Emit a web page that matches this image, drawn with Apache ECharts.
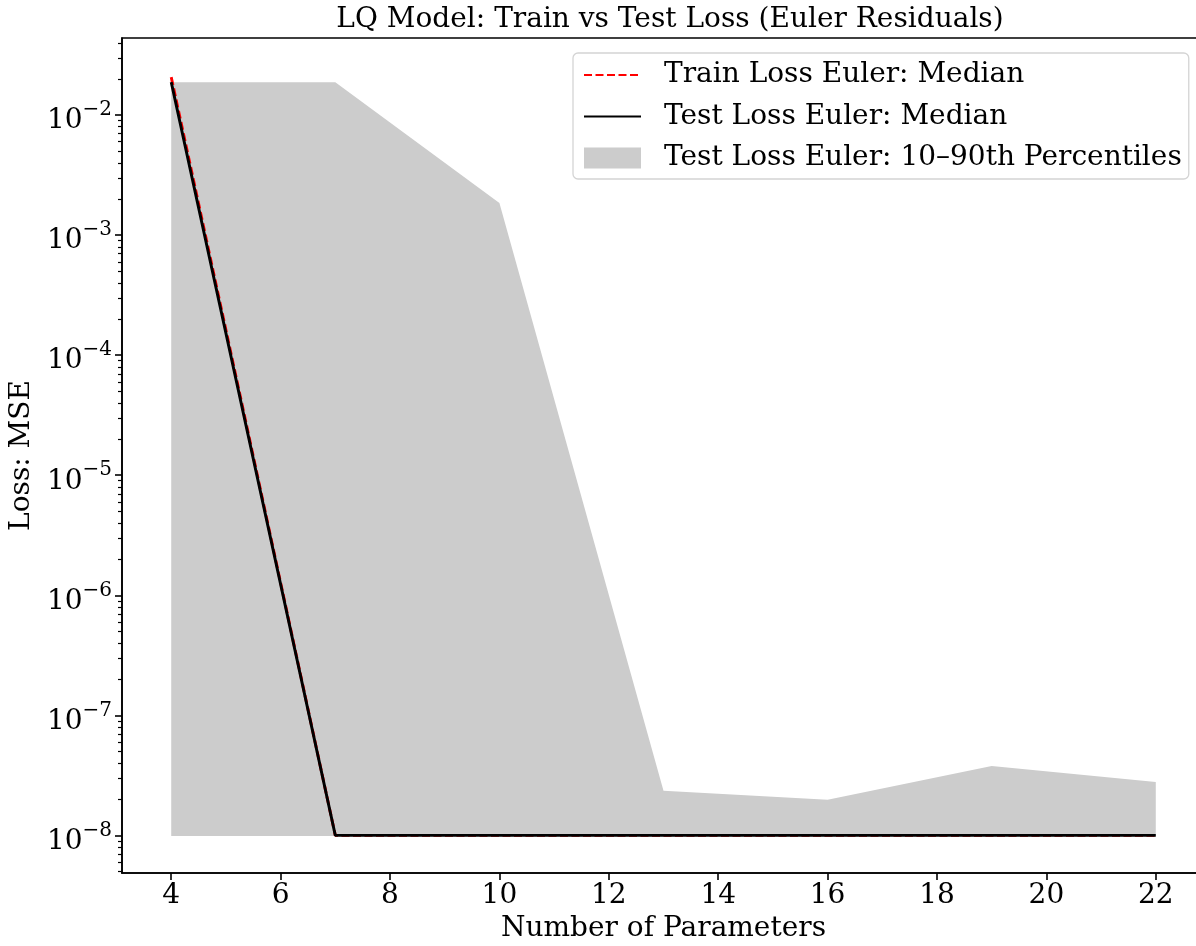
<!DOCTYPE html>
<html>
<head>
<meta charset="utf-8">
<script src="https://cdn.jsdelivr.net/npm/echarts@6/dist/echarts.min.js"></script>
<style>
  html, body { margin: 0; padding: 0; background: #fff; }
  #chart { width: 1196px; height: 946px; }
</style>
</head>
<body>
<div id="chart"></div>
<script>
// ---- data ----
const params = [4, 7, 10, 13, 16, 19, 22];
const trainMedian = [0.0207, 1e-8, 1e-8, 1e-8, 1e-8, 1e-8, 1e-8];
const testMedian = [0.0188, 1e-8, 1e-8, 1e-8, 1e-8, 1e-8, 1e-8];
const bandLower = [9.9e-9, 9.9e-9, 9.9e-9, 9.9e-9, 9.9e-9, 9.9e-9, 9.9e-9];
const bandUpper = [0.0188, 0.0188, 1.85e-3, 2.36e-8, 1.98e-8, 3.78e-8, 2.78e-8];
const xTicks = [4, 6, 8, 10, 12, 14, 16, 18, 20, 22];
const yMajorExps = [-8, -7, -6, -5, -4, -3, -2];

const names = {
  train: 'Train Loss Euler: Median',
  test: 'Test Loss Euler: Median',
  band: 'Test Loss Euler: 10\u201390th Percentiles'
};
const FONT = 'DejaVu Serif';
const FS = 28;

const yMin = Math.pow(10, -8.313);
const yMax = Math.pow(10, -1.358);
const yMajor = yMajorExps.map(e => Math.pow(10, e));
const yMinor = [];
for (let k = -9; k <= -2; k++) {
  for (let m = 2; m <= 9; m++) {
    const v = m * Math.pow(10, k);
    if (v > yMin && v < yMax) yMinor.push(v);
  }
}
function fmtExp(v) {
  const e = Math.round(Math.log10(v));
  const s = String(e).replace('-', '\u2212');
  return '{b|10}{s|' + s + '}';
}

const pairs = (xs, ys) => xs.map((x, i) => [x, ys[i]]);

const chart = echarts.init(document.getElementById('chart'), null, {renderer: 'canvas'});
chart.setOption({
  animation: false,
  backgroundColor: '#fff',
  textStyle: { fontFamily: FONT },
  grid: {
    left: 122, top: 38, right: -9, bottom: 73,
    outerBoundsMode: 'none', containLabel: false,
    show: true, borderColor: '#000', borderWidth: 1.6, backgroundColor: 'transparent'
  },
  graphic: [{
    type: 'text', x: 670, y: 20, z: 100,
    style: { text: 'LQ Model: Train vs Test Loss (Euler Residuals)', fontFamily: FONT, fontSize: FS, fill: '#000', textAlign: 'center', textVerticalAlign: 'middle' }
  }],
  legend: {
    orient: 'vertical', left: 573, top: 53,
    padding: [8, 7, 7, 10],
    itemGap: 13.5, itemWidth: 57, itemHeight: 21,
    backgroundColor: 'rgba(255,255,255,0.8)',
    borderColor: '#d4d4d4', borderWidth: 1.3, borderRadius: 5,
    textStyle: { fontFamily: FONT, fontSize: FS, color: '#000', lineHeight: 28, padding: [0, 0, 0, 18] },
    data: [
      { name: names.train, itemStyle: { opacity: 0 } },
      { name: names.test, itemStyle: { opacity: 0 } },
      { name: names.band, icon: 'rect', itemStyle: { color: '#cccccc', borderWidth: 0 } }
    ]
  },
  xAxis: {
    type: 'value', min: 3.1, max: 22.9,
    name: 'Number of Parameters', nameLocation: 'middle', nameGap: 35,
    nameTextStyle: { fontFamily: FONT, fontSize: FS, color: '#000' },
    axisLine: { show: true, onZero: false, lineStyle: { color: '#000', width: 1.6 } },
    axisTick: { show: true, length: 7, lineStyle: { color: '#000', width: 1.6 }, customValues: xTicks },
    axisLabel: { show: true, margin: 9, fontFamily: FONT, fontSize: FS, color: '#000', customValues: xTicks },
    splitLine: { show: false }
  },
  yAxis: [{
    type: 'log', logBase: 10, min: yMin, max: yMax,
    name: 'Loss: MSE', nameLocation: 'middle', nameGap: 86, nameRotate: 90,
    nameTextStyle: { fontFamily: FONT, fontSize: FS, color: '#000' },
    axisLine: { show: true, lineStyle: { color: '#000', width: 1.6 } },
    axisTick: { show: true, length: 7, lineStyle: { color: '#000', width: 1.6 }, customValues: yMajor },
    axisLabel: {
      show: true, margin: 10, color: '#000', customValues: yMajor,
      formatter: fmtExp,
      rich: {
        b: { fontFamily: FONT, fontSize: FS, color: '#000', padding: [12, 0, 0, 0] },
        s: { fontFamily: FONT, fontSize: 20, color: '#000', padding: [0, 0, 10, 0] }
      }
    },
    splitLine: { show: false }
  }, {
    type: 'log', logBase: 10, min: yMin, max: yMax, position: 'left',
    axisLine: { show: false },
    axisTick: { show: true, length: 4, lineStyle: { color: '#000', width: 1.2 }, customValues: yMinor },
    axisLabel: { show: false },
    splitLine: { show: false }
  }],
  series: [
    {
      name: names.band, type: 'custom', silent: true, z: 1,
      itemStyle: { color: '#cccccc' },
      data: params.map((x, i) => [x, bandUpper[i], bandLower[i]]),
      encode: { x: 0, y: [1, 2] },
      renderItem: function (p, api) {
        if (p.dataIndex !== 0) return null;
        const pts = [];
        for (let i = 0; i < params.length; i++) pts.push(api.coord([params[i], bandUpper[i]]));
        for (let i = params.length - 1; i >= 0; i--) pts.push(api.coord([params[i], bandLower[i]]));
        return { type: 'polygon', shape: { points: pts }, style: { fill: '#cccccc' } };
      }
    },
    {
      name: names.train, type: 'line', symbol: 'none',
      data: pairs(params, trainMedian),
      itemStyle: { color: '#ff0000' },
      lineStyle: { color: '#ff0000', width: 2.9, type: [8, 3.5] }, z: 3
    },
    {
      name: names.test, type: 'line', symbol: 'none',
      data: pairs(params, testMedian),
      itemStyle: { color: '#000' },
      lineStyle: { color: '#000', width: 2.9 }, z: 4
    }
  ]
});
</script>
</body>
</html>
